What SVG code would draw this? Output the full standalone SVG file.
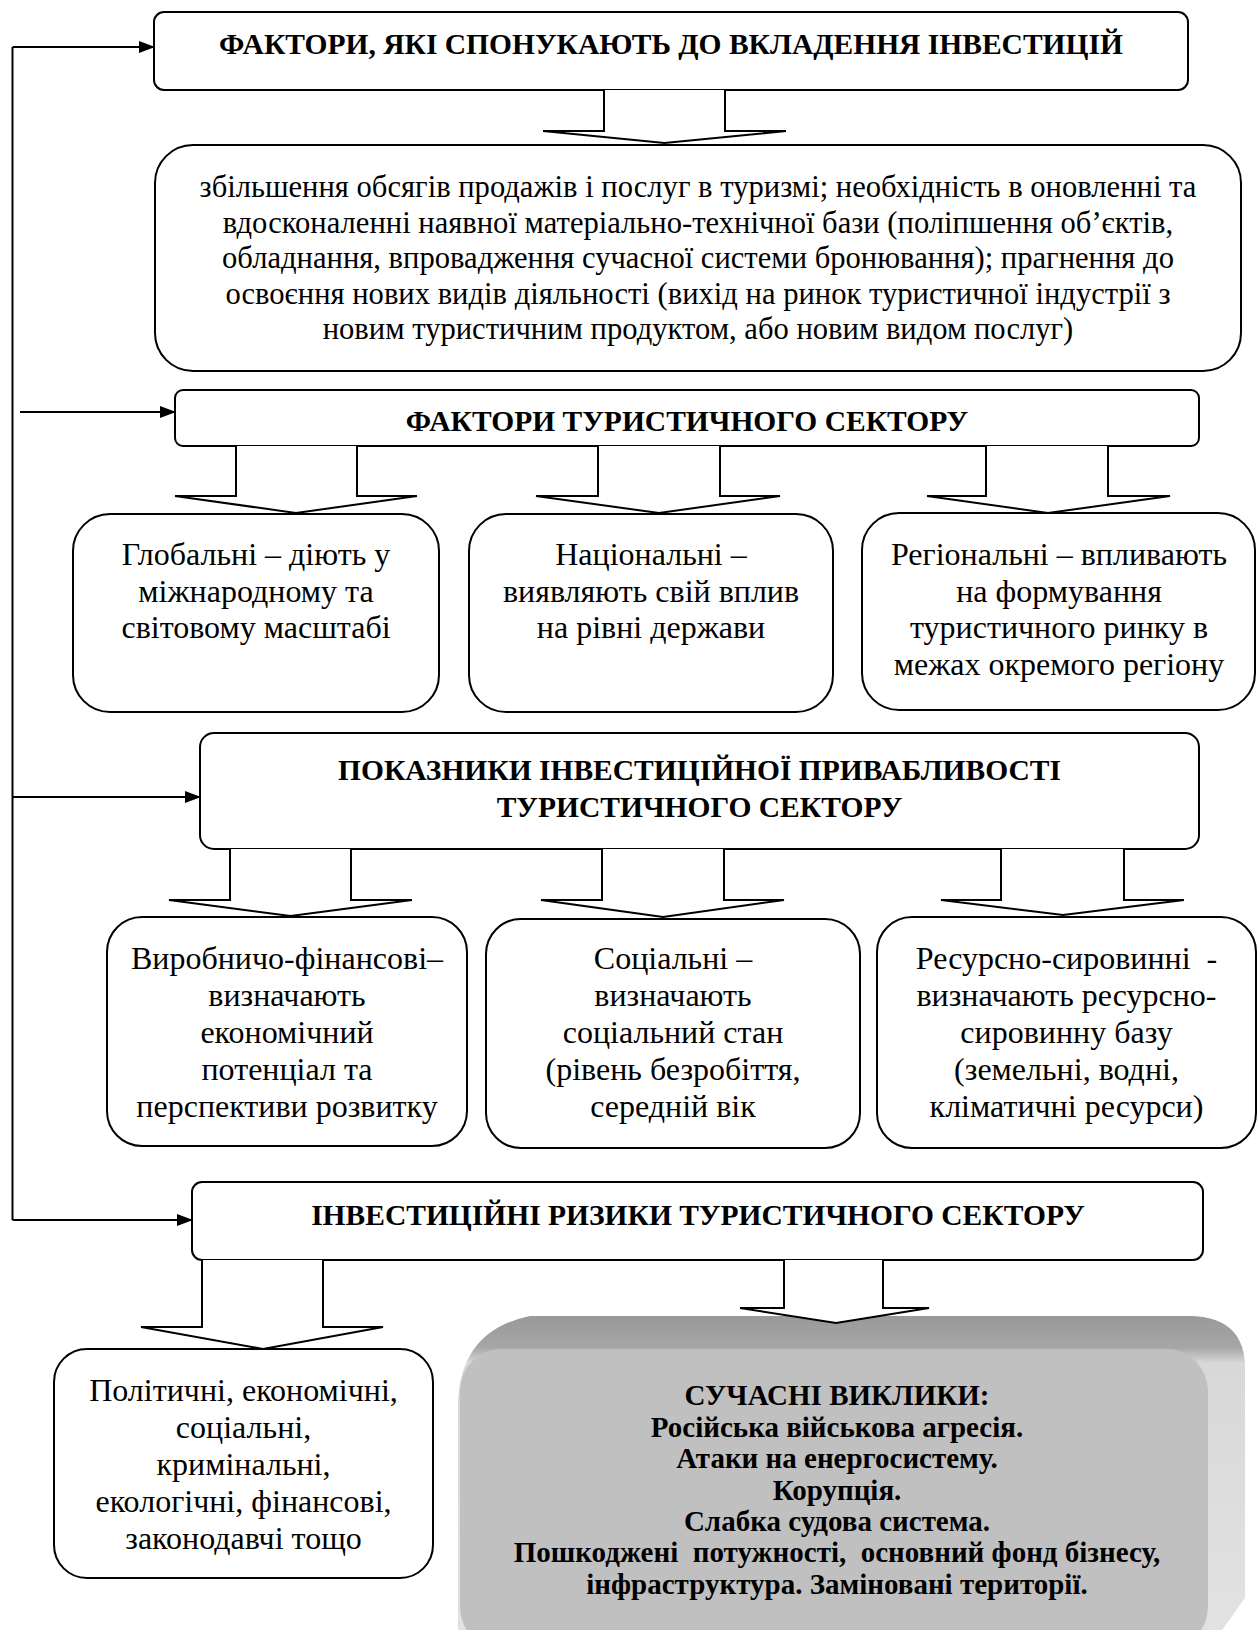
<svg xmlns="http://www.w3.org/2000/svg" width="1257" height="1630" viewBox="0 0 1257 1630">
<style>
.box{fill:#fff;stroke:#000;stroke-width:2}
.ba{fill:#fff;stroke:#000;stroke-width:2;stroke-linejoin:miter}
.conn{fill:none;stroke:#000;stroke-width:2}
.h{font-family:"Liberation Serif","Times New Roman",serif;font-weight:bold;font-size:29.5px;text-anchor:middle;fill:#000}
.t{font-family:"Liberation Serif","Times New Roman",serif;font-size:32px;text-anchor:middle;fill:#000}
.t2{font-family:"Liberation Serif","Times New Roman",serif;font-size:30.6px;text-anchor:middle;fill:#000}
.g{font-family:"Liberation Serif","Times New Roman",serif;font-weight:bold;font-size:29px;text-anchor:middle;fill:#000;white-space:pre}
</style>
<defs>
<marker id="ah" markerUnits="userSpaceOnUse" markerWidth="16" markerHeight="12" refX="15" refY="6" orient="auto">
<path d="M0,0 L16,6 L0,12 Z" fill="#000"/>
</marker>
<linearGradient id="bevel" gradientUnits="userSpaceOnUse" x1="0" y1="1316" x2="0" y2="1630">
<stop offset="0" stop-color="#999"/>
<stop offset="0.1" stop-color="#a6a6a6"/>
<stop offset="0.15" stop-color="#d8d8d8"/>
<stop offset="1" stop-color="#e2e2e2"/>
</linearGradient>
</defs>
<rect width="1257" height="1630" fill="#fff"/>

<g id="n1">
<rect class="box" x="154" y="12" width="1034" height="78" rx="10"/>
<text class="h" x="671" y="54">ФАКТОРИ, ЯКІ СПОНУКАЮТЬ ДО ВКЛАДЕННЯ ІНВЕСТИЦІЙ</text>
</g>
<g id="n2">
<rect class="box" x="155" y="145" width="1086" height="226" rx="38"/>
<text class="t2" x="698" y="197">збільшення обсягів продажів і послуг в туризмі; необхідність в оновленні та</text>
<text class="t2" x="698" y="232.5">вдосконаленні наявної матеріально-технічної бази (поліпшення об’єктів,</text>
<text class="t2" x="698" y="268">обладнання, впровадження сучасної системи бронювання); прагнення до</text>
<text class="t2" x="698" y="303.5">освоєння нових видів діяльності (вихід на ринок туристичної індустрії з</text>
<text class="t2" x="698" y="339">новим туристичним продуктом, або новим видом послуг)</text>
</g>
<g id="n3">
<rect class="box" x="175" y="390" width="1024" height="56" rx="8"/>
<text class="h" x="687" y="431">ФАКТОРИ ТУРИСТИЧНОГО СЕКТОРУ</text>
</g>
<g id="n4">
<rect class="box" x="73" y="514" width="366" height="198" rx="37"/>
<text class="t" x="256" y="565">Глобальні – діють у</text>
<text class="t" x="256" y="601.5">міжнародному та</text>
<text class="t" x="256" y="638">світовому масштабі</text>
</g>
<g id="n5">
<rect class="box" x="469" y="514" width="364" height="198" rx="37"/>
<text class="t" x="651" y="565">Національні –</text>
<text class="t" x="651" y="601.5">виявляють свій вплив</text>
<text class="t" x="651" y="638">на рівні держави</text>
</g>
<g id="n6">
<rect class="box" x="862" y="513" width="393" height="197" rx="37"/>
<text class="t" x="1059" y="565">Регіональні – впливають</text>
<text class="t" x="1059" y="601.5">на формування</text>
<text class="t" x="1059" y="638">туристичного ринку в</text>
<text class="t" x="1059" y="674.5">межах окремого регіону</text>
</g>
<g id="n7">
<rect class="box" x="200" y="733" width="999" height="116" rx="14"/>
<text class="h" x="699.5" y="780">ПОКАЗНИКИ ІНВЕСТИЦІЙНОЇ ПРИВАБЛИВОСТІ</text>
<text class="h" x="699.5" y="817">ТУРИСТИЧНОГО СЕКТОРУ</text>
</g>
<g id="n8">
<rect class="box" x="107" y="917" width="360" height="229" rx="35"/>
<text class="t" x="287" y="969">Виробничо-фінансові–</text>
<text class="t" x="287" y="1006">визначають</text>
<text class="t" x="287" y="1043">економічний</text>
<text class="t" x="287" y="1080">потенціал та</text>
<text class="t" x="287" y="1117">перспективи розвитку</text>
</g>
<g id="n9">
<rect class="box" x="486" y="919" width="374" height="229" rx="35"/>
<text class="t" x="673" y="969">Соціальні –</text>
<text class="t" x="673" y="1006">визначають</text>
<text class="t" x="673" y="1043">соціальний стан</text>
<text class="t" x="673" y="1080">(рівень безробіття,</text>
<text class="t" x="673" y="1117">середній вік</text>
</g>
<g id="n10">
<rect class="box" x="877" y="917" width="379" height="231" rx="35"/>
<text class="t" x="1066.5" y="969" style="white-space:pre">Ресурсно-сировинні  -</text>
<text class="t" x="1066.5" y="1006">визначають ресурсно-</text>
<text class="t" x="1066.5" y="1043">сировинну базу</text>
<text class="t" x="1066.5" y="1080">(земельні, водні,</text>
<text class="t" x="1066.5" y="1117">кліматичні ресурси)</text>
</g>
<g id="n11">
<rect class="box" x="192" y="1182" width="1011" height="78" rx="10"/>
<text class="h" x="698" y="1225">ІНВЕСТИЦІЙНІ РИЗИКИ ТУРИСТИЧНОГО СЕКТОРУ</text>
</g>
<g id="n12">
<rect class="box" x="54" y="1349" width="379" height="229" rx="33"/>
<text class="t" x="243.5" y="1401">Політичні, економічні,</text>
<text class="t" x="243.5" y="1438">соціальні,</text>
<text class="t" x="243.5" y="1475">кримінальні,</text>
<text class="t" x="243.5" y="1512">екологічні, фінансові,</text>
<text class="t" x="243.5" y="1549">законодавчі тощо</text>
</g>
<g id="n13">
<path d="M458,1400 Q462,1330 530,1316 L1192,1316 Q1245,1318 1245,1368 L1245,1598 L1215,1640 L458,1640 Z" fill="url(#bevel)"/>
<rect x="460" y="1349" width="748" height="300" rx="42" fill="#c0c0c0"/>
<text class="g" x="837" y="1405">СУЧАСНІ ВИКЛИКИ:</text>
<text class="g" x="837" y="1436.5">Російська військова агресія.</text>
<text class="g" x="837" y="1468">Атаки на енергосистему.</text>
<text class="g" x="837" y="1499.5">Корупція.</text>
<text class="g" x="837" y="1531">Слабка судова система.</text>
<text class="g" x="837" y="1562">Пошкоджені  потужності,  основний фонд бізнесу,</text>
<text class="g" x="837" y="1593.5">інфраструктура. Заміновані території.</text>
</g>

<g id="connectors">
<path class="conn" d="M12.5,1220 L12.5,47"/>
<path class="conn" d="M12.5,47 L154,47" marker-end="url(#ah)"/>
<path class="conn" d="M20,412 L175,412" marker-end="url(#ah)"/>
<path class="conn" d="M12.5,797 L200,797" marker-end="url(#ah)"/>
<path class="conn" d="M12.5,1220 L192,1220" marker-end="url(#ah)"/>
<path class="ba" d="M604,90 L604,131 L543,131 L664.5,143 L786,131 L725,131 L725,90"/>
<path class="ba" d="M236,446 L236,496 L175,496 L296,513 L417,496 L357,496 L357,446"/>
<path class="ba" d="M598,446 L598,496 L536,496 L659,513 L780,496 L720,496 L720,446"/>
<path class="ba" d="M986,446 L986,496 L927,496 L1048,513 L1170,496 L1108,496 L1108,446"/>
<path class="ba" d="M230,849 L230,900 L169,900 L290.5,916 L412,900 L351,900 L351,849"/>
<path class="ba" d="M602,849 L602,900 L541,900 L663,917 L784,900 L724,900 L724,849"/>
<path class="ba" d="M1001,849 L1001,900 L941,900 L1063,915 L1184,900 L1124,900 L1124,849"/>
<path class="ba" d="M202,1260 L202,1327 L141,1327 L263,1349 L383,1327 L323,1327 L323,1260"/>
<path class="ba" d="M784,1260 L784,1308 L740,1308 L836,1323 L929,1308 L883,1308 L883,1260"/>
</g>
</svg>
